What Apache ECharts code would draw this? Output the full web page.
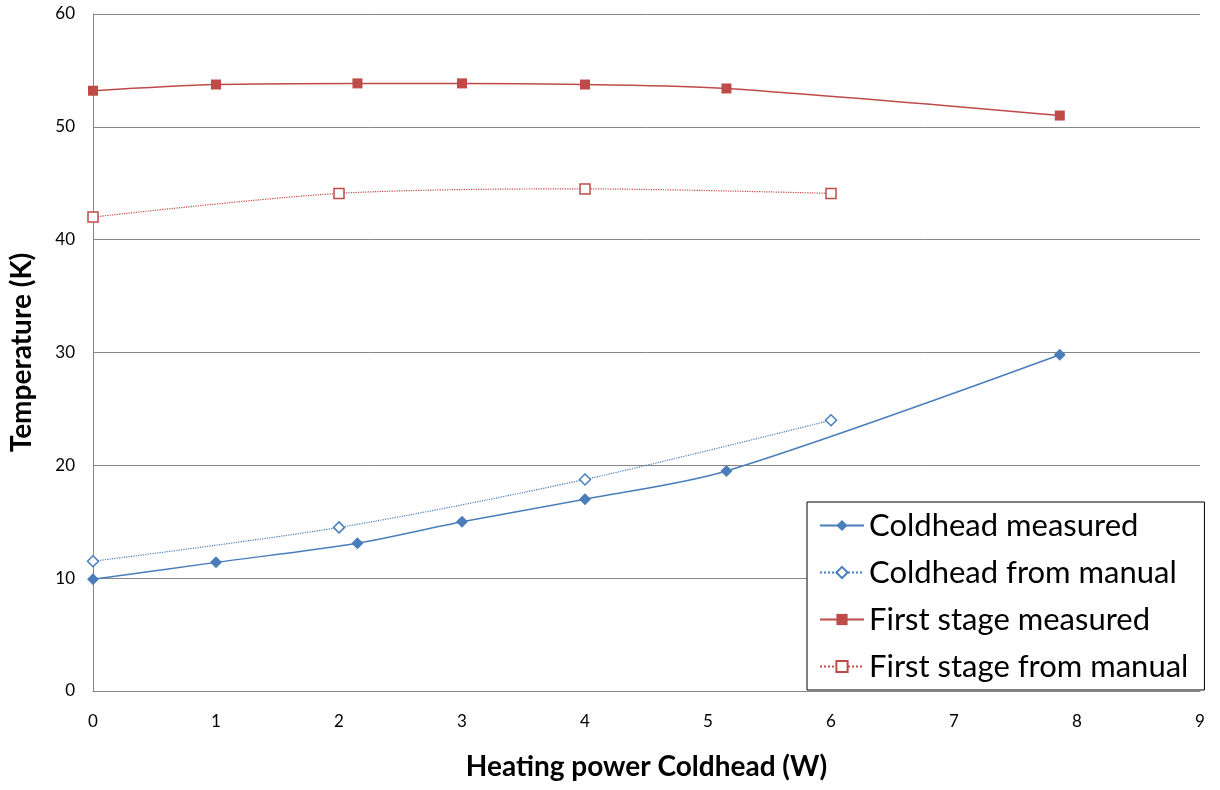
<!DOCTYPE html>
<html><head><meta charset="utf-8">
<script src="https://cdn.jsdelivr.net/npm/echarts@6/dist/echarts.min.js"></script>
<style>html,body{margin:0;padding:0;background:#fff}#c{width:1220px;height:790px}</style>
</head><body><div id="c"></div>
<script>
const xTicks = [0,1,2,3,4,5,6,7,8,9];
const yTicks = [0,10,20,30,40,50,60];
const coldMeasX = [0, 1, 2.15, 3, 4, 5.15, 7.86];
const coldMeasY = [9.9, 11.4, 13.1, 15.0, 17.0, 19.5, 29.8];
const coldManX = [0, 2, 4, 6];
const coldManY = [11.5, 14.5, 18.75, 24.0];
const firstMeasX = [0, 1, 2.15, 3, 4, 5.15, 7.86];
const firstMeasY = [53.2, 53.75, 53.85, 53.85, 53.75, 53.4, 51.0];
const firstManX = [0, 2, 4, 6];
const firstManY = [42.0, 44.1, 44.5, 44.1];
const names = ['Coldhead measured','Coldhead from manual','First stage measured','First stage from manual'];

const zip = (xs, ys) => xs.map((x, i) => [x, ys[i]]);
const blue = '#4a7ebb', red = '#be4b48';
const font = 'Lato, "Open Sans", sans-serif';

const chart = echarts.init(document.getElementById('c'));
chart.setOption({
  animation: false,
  textStyle: { fontFamily: font },
  grid: { left: 93, right: 20, top: 14, bottom: 99, containLabel: false },
  xAxis: {
    type: 'value', min: 0, max: 9, interval: 1,
    name: 'Heating power Coldhead (W)', nameLocation: 'middle', nameGap: 62,
    nameTextStyle: { fontSize: 28, fontWeight: 'bold', color: '#000', fontFamily: font },
    axisLine: { show: true, lineStyle: { color: '#868686', width: 1 } },
    axisTick: { show: false },
    axisLabel: { fontSize: 17, color: '#000', margin: 22, formatter: v => xTicks.includes(v) ? String(v) : '' },
    splitLine: { show: false }
  },
  yAxis: {
    type: 'value', min: 0, max: 60, interval: 10,
    name: 'Temperature (K)', nameLocation: 'middle', nameGap: 57, nameRotate: 90,
    nameTextStyle: { fontSize: 28, fontWeight: 'bold', color: '#000', fontFamily: font },
    axisLine: { show: true, lineStyle: { color: '#868686', width: 1 } },
    axisTick: { show: false },
    axisLabel: { fontSize: 17, color: '#000', margin: 18, formatter: v => yTicks.includes(v) ? String(v) : '' },
    splitLine: { show: true, lineStyle: { color: '#868686', width: 1 } }
  },
  legend: {
    orient: 'vertical', left: 807, top: 502,
    padding: [8, 16, 8, 12],
    backgroundColor: '#fff', borderColor: '#000', borderWidth: 1,
    itemWidth: 44, itemHeight: 14, itemGap: 16,
    textStyle: { fontSize: 31, color: '#000', fontFamily: font },
    data: names
  },
  series: [
    { name: names[0], type: 'line', smooth: 0.3, data: zip(coldMeasX, coldMeasY),
      symbol: 'diamond', symbolSize: 12, color: blue,
      lineStyle: { color: blue, width: 1.5 }, itemStyle: { color: blue } },
    { name: names[1], type: 'line', smooth: 0.3, data: zip(coldManX, coldManY),
      symbol: 'diamond', symbolSize: 11, color: blue,
      lineStyle: { color: blue, width: 1.2, type: 'dotted' },
      itemStyle: { color: '#fff', borderColor: blue, borderWidth: 1.5 } },
    { name: names[2], type: 'line', smooth: 0.3, data: zip(firstMeasX, firstMeasY),
      symbol: 'rect', symbolSize: 10, color: red,
      lineStyle: { color: red, width: 1.5 }, itemStyle: { color: red } },
    { name: names[3], type: 'line', smooth: 0.3, data: zip(firstManX, firstManY),
      symbol: 'rect', symbolSize: 10, color: red,
      lineStyle: { color: red, width: 1.2, type: 'dotted' },
      itemStyle: { color: '#fff', borderColor: red, borderWidth: 1.5 } }
  ]
});
</script></body></html>
